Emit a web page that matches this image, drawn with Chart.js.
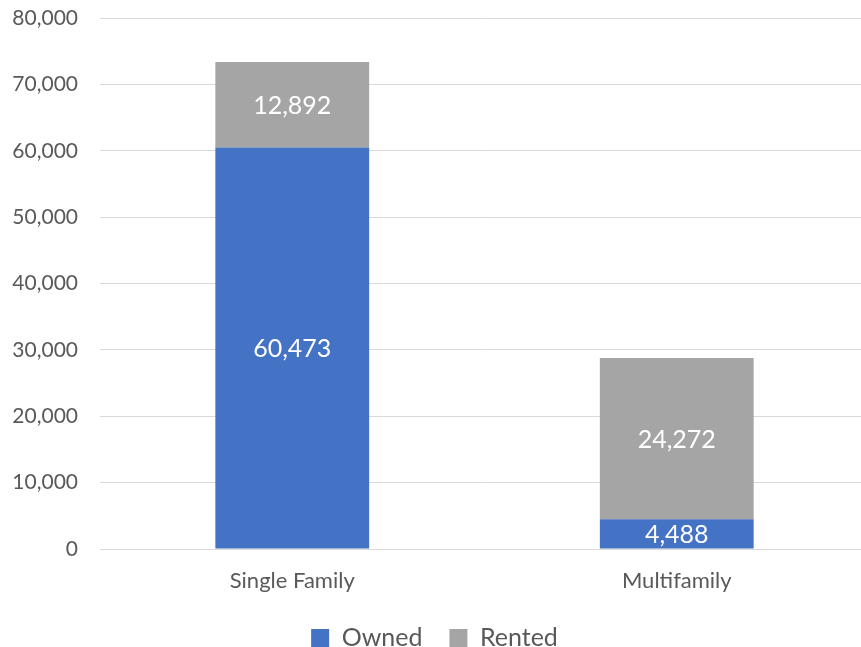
<!DOCTYPE html>
<html>
<head>
<meta charset="utf-8">
<script src="https://cdn.jsdelivr.net/npm/chart.js@4"></script>
<style>
  html, body { margin: 0; padding: 0; background: #fff; overflow: hidden; }
  #wrap { width: 869px; height: 647px; }
</style>
</head>
<body>
<div id="wrap"><canvas id="chartHousing"></canvas></div>
<script>
var categories = ['Single Family', 'Multifamily'];
var owned = [60473, 4488];
var rented = [12892, 24272];
var yTicks = [0, 10000, 20000, 30000, 40000, 50000, 60000, 70000, 80000];

var fontName = 'Lato, "Open Sans", sans-serif';

// puts the value in the middle of each bar segment
var barValues = {
    id: 'barValues',
    afterDatasetsDraw: function(chart) {
        var ctx = chart.ctx;
        ctx.save();
        ctx.fillStyle = '#ffffff';
        ctx.font = '25px ' + fontName;
        ctx.textAlign = 'center';
        ctx.textBaseline = 'middle';
        chart.data.datasets.forEach(function(ds, i) {
            var meta = chart.getDatasetMeta(i);
            meta.data.forEach(function(bar, j) {
                var v = ds.data[j];
                ctx.fillText(v.toLocaleString('en-US'), bar.x, (bar.y + bar.base) / 2 + 1);
            });
        });
        ctx.restore();
    }
};

var ctx = document.getElementById('chartHousing');
var chart = new Chart(ctx, {
    type: 'bar',
    data: {
        labels: categories,
        datasets: [{
            label: 'Owned',
            data: owned,
            backgroundColor: '#4472C4',
            barPercentage: 1,
            categoryPercentage: 0.4
        }, {
            label: 'Rented',
            data: rented,
            backgroundColor: '#A5A5A5',
            barPercentage: 1,
            categoryPercentage: 0.4
        }]
    },
    options: {
        responsive: true,
        maintainAspectRatio: false,
        animation: false,
        layout: {
            padding: { top: 18, right: 0, bottom: -13.5, left: 0 }
        },
        plugins: {
            tooltip: { enabled: false },
            legend: {
                position: 'bottom',
                labels: {
                    color: '#595959',
                    font: { family: fontName, size: 25 },
                    boxWidth: 18,
                    boxHeight: 18,
                    padding: 27
                }
            }
        },
        scales: {
            x: {
                stacked: true,
                grid: { display: false, drawTicks: false },
                border: { color: '#d9d9d9', width: 1 },
                ticks: {
                    color: '#595959',
                    font: { family: fontName, size: 22 },
                    padding: 19
                },
                afterFit: function(scale) { scale.height = 49.5; }
            },
            y: {
                stacked: true,
                min: 0,
                max: 80000,
                afterBuildTicks: function(scale) {
                    scale.ticks = yTicks.map(function(v) { return { value: v }; });
                },
                grid: { color: '#d9d9d9', drawTicks: false },
                border: { display: false },
                ticks: {
                    color: '#595959',
                    font: { family: fontName, size: 21 },
                    padding: 22,
                    callback: function(v) { return v.toLocaleString('en-US'); }
                },
                afterFit: function(scale) {
                    scale.width = 100;
                    scale.paddingTop = 0;
                    scale.paddingBottom = 0;
                }
            }
        }
    },
    plugins: [barValues]
});
</script>
</body>
</html>
